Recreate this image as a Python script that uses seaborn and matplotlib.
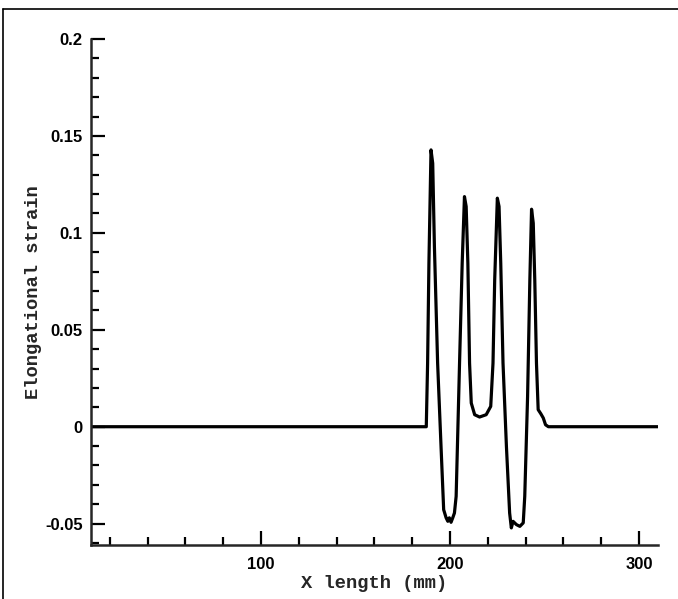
import numpy as np
import pandas as pd
import matplotlib.pyplot as plt
from matplotlib.ticker import MultipleLocator, FixedLocator
from matplotlib.lines import Line2D
import seaborn as sns

# Valeurs (X en mm, déformation)
x_mm = [10, 60, 120, 170, 187.4, 188.1, 188.8, 189.9, 190.8, 191.7, 193.4, 195.2,
        196.6, 197.9, 198.8, 199.6, 200.5, 201.4, 202.3, 203.2, 205.0, 206.4,
        207.6, 208.5, 209.4, 210.3, 211.2, 213.0, 215.6, 219.1, 221.5, 222.7,
        223.6, 225.0, 225.9, 226.8, 228.0, 229.8, 231.5, 232.4, 233.3, 235.1,
        236.9, 238.7, 239.5, 241.0, 242.2, 243.1, 244.0, 244.8, 245.7, 246.6,
        248.0, 249.3, 250.5, 252.0, 280, 310]
strain = [0, 0, 0, 0, 0, 0.0328, 0.0844, 0.1428, 0.1359, 0.0930, 0.0328, -0.0101,
          -0.0428, -0.0470, -0.0488, -0.0470, -0.0493, -0.0470, -0.0445, -0.0359, 0.0328, 0.0844,
          0.1187, 0.1136, 0.0844, 0.0328, 0.0122, 0.0062, 0.0050, 0.0062, 0.0105, 0.0328,
          0.0758, 0.1179, 0.1136, 0.0844, 0.0328, -0.0101, -0.0445, -0.0522, -0.0488, -0.0505,
          -0.0514, -0.0496, -0.0359, 0.0156, 0.0758, 0.1122, 0.1050, 0.0758, 0.0328, 0.0088,
          0.0067, 0.0045, 0.0010, 0, 0, 0]

y_ticks = [-0.05, 0, 0.05, 0.1, 0.15, 0.2]
y_tick_labels = ["-0.05", "0", "0.05", "0.1", "0.15", "0.2"]
x_ticks = [100, 200, 300]

df = pd.DataFrame({"x": x_mm, "strain": strain})

sns.set_style("ticks")
plt.rcParams["font.family"] = ["Liberation Sans", "DejaVu Sans"]

fig = plt.figure(figsize=(6.78, 5.99), dpi=100)
ax = fig.add_axes([0.1342, 0.0902, 0.8363, 0.8447])

sns.lineplot(data=df, x="x", y="strain", estimator=None, sort=False,
             color="black", linewidth=2.3, ax=ax)

ax.set_xlim(10, 310)
ax.set_ylim(-0.061, 0.2)

ax.xaxis.set_major_locator(FixedLocator(x_ticks))
ax.xaxis.set_minor_locator(MultipleLocator(20))
ax.yaxis.set_major_locator(FixedLocator(y_ticks))
ax.yaxis.set_minor_locator(MultipleLocator(0.01))
ax.set_yticklabels(y_tick_labels)

ax.tick_params(which="both", direction="in", width=1.6, colors="black")
ax.tick_params(which="major", length=10, labelsize=12, pad=6)
ax.tick_params(axis="x", which="major", pad=9)
ax.tick_params(which="minor", length=6)
for lab in ax.get_xticklabels() + ax.get_yticklabels():
    lab.set_fontweight("bold")

sns.despine(ax=ax)
for s in ["left", "bottom"]:
    ax.spines[s].set_linewidth(1.8)

mono = ["Liberation Mono", "DejaVu Sans Mono"]
ax.set_xlabel("X length (mm)", family=mono, fontweight="bold", fontsize=13.5, labelpad=2)
ax.set_ylabel("Elongational strain", family=mono, fontweight="bold", fontsize=13.5, labelpad=2)

# cadre de la page scannée
fig.add_artist(Line2D([0.005, 0.005], [0, 0.985], transform=fig.transFigure, color="black", lw=1.2))
fig.add_artist(Line2D([0.005, 1], [0.985, 0.985], transform=fig.transFigure, color="black", lw=1.2))

fig.savefig("out.png", dpi=100, facecolor="white")
